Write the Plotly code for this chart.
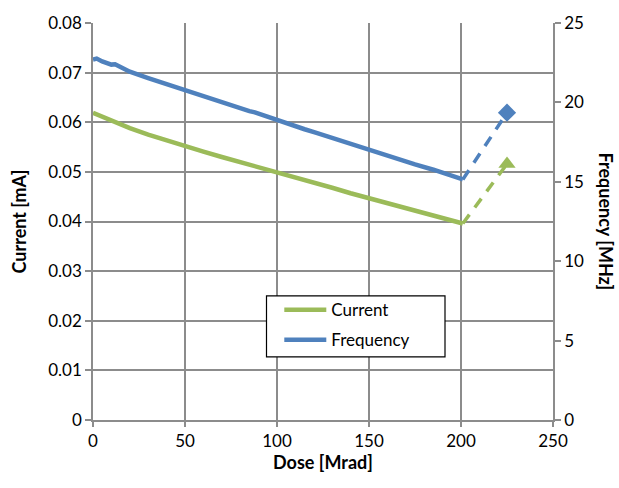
import plotly.graph_objects as go

# Supply current vs. dose (measured)
dose_current = [0, 10, 20, 30, 40, 50, 60, 70, 80, 90, 100, 110, 120, 130,
                140, 150, 160, 170, 180, 190, 201]
current_ma = [0.0619, 0.0603, 0.0588, 0.0575, 0.0563, 0.0552, 0.0541, 0.0530,
              0.0520, 0.0510, 0.0500, 0.0489, 0.0478, 0.0468, 0.0457, 0.0447,
              0.0437, 0.0427, 0.0417, 0.0407, 0.0396]

# Oscillator frequency vs. dose (measured)
dose_freq = [0, 2, 5, 10, 12, 20, 30, 40, 43, 47, 55, 65, 75, 85, 88, 95, 105,
             115, 121, 125, 133, 140, 143, 150, 155, 165, 175, 185, 195, 201]
freq_mhz = [22.70, 22.76, 22.58, 22.38, 22.40, 21.93, 21.53, 21.14, 21.03,
            20.93, 20.55, 20.18, 19.81, 19.45, 19.37, 19.08, 18.70, 18.31,
            18.10, 17.95, 17.63, 17.38, 17.31, 16.99, 16.84, 16.48, 16.10,
            15.76, 15.42, 15.15]

# Post-annealing measurement
dose_after = 225
current_after = 0.0516
freq_after = 19.35

GREEN = "#9BBB59"
BLUE = "#4F81BD"
GRID = "#8C8C8C"
FONT = "Lato, Open Sans, sans-serif"

fig = go.Figure()

fig.add_trace(go.Scatter(x=dose_current, y=current_ma, mode="lines", name="Current",
                         legendgroup="current",
                         line=dict(color=GREEN, width=4.5)))
fig.add_trace(go.Scatter(x=dose_freq, y=freq_mhz, mode="lines", name="Frequency",
                         legendgroup="frequency",
                         yaxis="y2", line=dict(color=BLUE, width=4.5)))

# Dashed jumps to the post-annealing values
fig.add_trace(go.Scatter(x=[dose_current[-1], dose_after], y=[current_ma[-1], current_after],
                         mode="lines", showlegend=False,
                         line=dict(color=GREEN, width=3.5, dash="11px,9px")))
fig.add_trace(go.Scatter(x=[dose_freq[-1], dose_after], y=[freq_mhz[-1], freq_after],
                         mode="lines", showlegend=False, yaxis="y2",
                         line=dict(color=BLUE, width=3.5, dash="11px,9px")))
fig.add_trace(go.Scatter(x=[dose_after], y=[current_after], mode="markers", showlegend=False,
                         marker=dict(symbol="triangle-up", size=15, color=GREEN)))
fig.add_trace(go.Scatter(x=[dose_after], y=[freq_after], mode="markers", showlegend=False,
                         yaxis="y2", marker=dict(symbol="diamond", size=14, color=BLUE)))

axis_font = dict(family=FONT, size=17, color="#000000")
title_font = dict(family=FONT, size=18, color="#000000")

fig.update_layout(
    width=619, height=488,
    margin=dict(l=93, r=66, t=17, b=68),
    paper_bgcolor="white", plot_bgcolor="white",
    font=dict(family=FONT),
    xaxis=dict(range=[0, 250], dtick=50, tick0=0, showgrid=True, gridcolor=GRID, gridwidth=1.6,
               showline=True, linecolor=GRID, linewidth=1.6, zeroline=False,
               ticks="outside", ticklen=5, tickcolor=GRID, tickwidth=1.6,
               tickfont=axis_font,
               title=dict(text="<b>Dose [Mrad]</b>", font=title_font, standoff=5)),
    yaxis=dict(range=[0, 0.08], dtick=0.01, tick0=0, showgrid=True, gridcolor=GRID, gridwidth=1.6,
               showline=True, linecolor=GRID, linewidth=1.6, zeroline=False,
               ticks="outside", ticklen=6, tickcolor=GRID, tickwidth=1.6,
               tickfont=axis_font,
               title=dict(text="<b>Current [mA]</b>", font=title_font, standoff=17)),
    yaxis2=dict(range=[0, 25], dtick=5, tick0=0, overlaying="y", side="right",
                showgrid=False, showline=True, linecolor=GRID, linewidth=1.6, zeroline=False,
                ticks="outside", ticklen=6, tickcolor=GRID, tickwidth=1.6,
                tickfont=axis_font),
    legend=dict(x=0.405, y=0.322, xanchor="left", yanchor="top",
                bgcolor="rgba(0,0,0,0)", borderwidth=0,
                font=dict(family=FONT, size=17, color="#000000"),
                itemwidth=42, tracegroupgap=5),
    showlegend=True,
)

# Legend frame
fig.add_shape(type="rect", xref="paper", yref="paper",
              x0=(266.5 - 93) / 460, x1=(445 - 93) / 460,
              y0=(420 - 356) / 403, y1=(420 - 294) / 403,
              fillcolor="white", line=dict(color="#000000", width=1.2), layer="above")

fig.add_annotation(text="<b>Frequency [MHz]</b>", textangle=90, xref="paper", yref="paper",
                   x=1.0, y=0.5, xanchor="center", yanchor="middle", xshift=53,
                   showarrow=False, font=title_font)

fig.write_html("out.html")
